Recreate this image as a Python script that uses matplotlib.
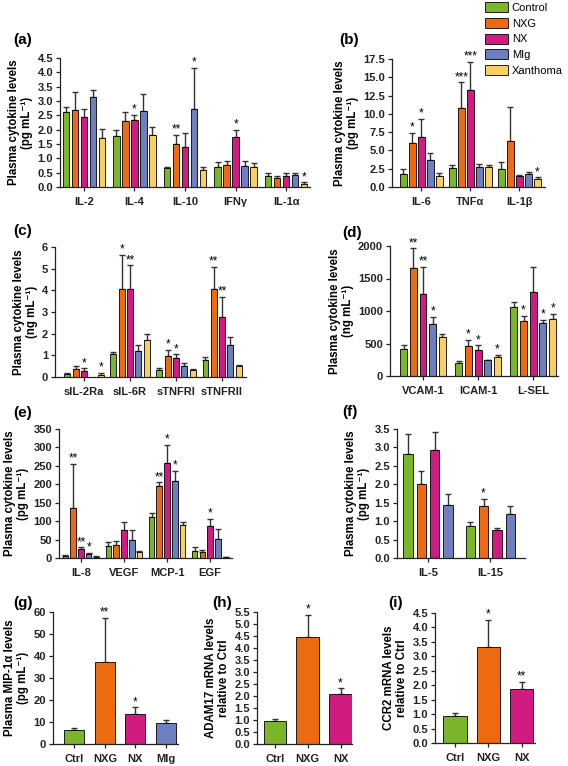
import numpy as np
import matplotlib
matplotlib.use('Agg')
import matplotlib.pyplot as plt
from matplotlib.patches import Patch

plt.rcParams['font.family'] = ['Liberation Sans', 'DejaVu Sans']
plt.rcParams['font.weight'] = 'bold'
plt.rcParams['axes.labelweight'] = 'bold'

# colours of the five groups
series = ['Control', 'NXG', 'NX', 'MIg', 'Xanthoma']
colors = ['#7AB52A', '#EE6A10', '#D11B80', '#6F7EC0', '#F8CF60']

# (a) pg/mL
a_groups = ['IL-2', 'IL-4', 'IL-10', 'IFNγ', 'IL-1α']
a_means = [[2.60, 1.79, 0.65, 0.70, 0.37],
           [2.69, 2.30, 1.51, 0.77, 0.33],
           [2.43, 2.34, 1.40, 1.73, 0.38],
           [3.15, 2.64, 2.73, 0.74, 0.42],
           [1.72, 1.83, 0.61, 0.70, 0.12]]
a_errs = [[0.20, 0.20, 0.05, 0.16, 0.13],
          [0.61, 0.33, 0.30, 0.13, 0.05],
          [0.30, 0.17, 0.49, 0.26, 0.10],
          [0.24, 0.60, 1.42, 0.18, 0.06],
          [0.32, 0.27, 0.09, 0.14, 0.04]]
a_stars = [['', '', '', '', ''],
           ['', '', '**', '', ''],
           ['', '*', '', '*', ''],
           ['', '', '*', '', ''],
           ['', '', '', '', '*']]

# (b) pg/mL
b_groups = ['IL-6', 'TNFα', 'IL-1β']
b_means = [[1.8, 2.6, 2.46],
           [6.0, 10.8, 6.25],
           [6.9, 13.2, 1.55],
           [3.7, 2.8, 1.78],
           [1.55, 2.7, 1.15]]
b_errs = [[0.6, 0.4, 0.9],
          [1.4, 3.5, 4.65],
          [2.4, 3.9, 0.15],
          [1.0, 0.4, 0.22],
          [0.35, 0.3, 0.15]]
b_stars = [['', '', ''],
           ['*', '***', ''],
           ['*', '***', ''],
           ['', '', ''],
           ['', '', '*']]

# (c) ng/mL
c_groups = ['sIL-2Ra', 'sIL-6R', 'sTNFRI', 'sTNFRII']
c_means = [[0.15, 1.05, 0.33, 0.77],
           [0.35, 4.05, 0.98, 4.05],
           [0.30, 4.05, 0.88, 2.77],
           [np.nan, 1.22, 0.53, 1.48],
           [0.10, 1.72, 0.33, 0.53]]
c_errs = [[0.02, 0.12, 0.07, 0.15],
          [0.17, 1.57, 0.27, 1.05],
          [0.10, 1.10, 0.17, 0.93],
          [np.nan, 0.26, 0.12, 0.37],
          [0.10, 0.28, 0.04, 0.04]]
c_stars = [['', '', '', ''],
           ['', '*', '*', '**'],
           ['*', '**', '*', '**'],
           ['', '', '', ''],
           ['*', '', '', '']]

# (d) ng/mL
d_groups = ['VCAM-1', 'ICAM-1', 'L-SEL']
d_means = [[422, 206, 1069],
           [1655, 458, 843],
           [1260, 406, 1296],
           [807, 242, 812],
           [601, 298, 879]]
d_errs = [[61, 25, 62],
          [309, 102, 77],
          [421, 67, 385],
          [103, 10, 57],
          [52, 26, 82]]
d_stars = [['', '', ''],
           ['**', '*', '*'],
           ['**', '*', ''],
           ['*', '', '*'],
           ['', '*', '*']]

# (e) pg/mL
e_groups = ['IL-8', 'VEGF', 'MCP-1', 'EGF']
e_means = [[4.5, 33, 111, 18],
           [136, 36, 196, 16],
           [23.5, 77, 257, 86],
           [11, 50, 210, 52],
           [3.6, 15, 90, 3]]
e_errs = [[2.5, 10, 11, 12],
          [119, 11, 9, 7],
          [5.5, 22, 50, 20],
          [2.5, 27, 27, 27],
          [1, 3, 9, 1]]
e_stars = [['', '', '', ''],
           ['**', '', '**', ''],
           ['**', '', '*', '*'],
           ['*', '', '*', ''],
           ['', '', '', '']]

# (f) pg/mL, four groups only
f_groups = ['IL-5', 'IL-15']
f_means = [[2.81, 0.88],
           [2.00, 1.42],
           [2.92, 0.77],
           [1.45, 1.19]]
f_errs = [[0.56, 0.10],
          [0.35, 0.19],
          [0.49, 0.04],
          [0.29, 0.23]]
f_stars = [['', ''], ['', '*'], ['', ''], ['', '']]

# (g) MIP-1a, (h) ADAM17, (i) CCR2
g_labels = ['Ctrl', 'NXG', 'NX', 'MIg']
g_means = [6.2, 37.4, 13.7, 9.5]
g_errs = [1.3, 19.9, 2.9, 1.4]
g_stars = ['', '**', '*', '']

h_labels = ['Ctrl', 'NXG', 'NX']
h_means = [0.97, 4.46, 2.09]
h_errs = [0.09, 0.93, 0.23]
h_stars = ['', '*', '*']

i_labels = ['Ctrl', 'NXG', 'NX']
i_means = [0.95, 3.31, 1.87]
i_errs = [0.08, 0.94, 0.25]
i_stars = ['', '*', '**']

W, H = 568, 766
fig = plt.figure(figsize=(W / 100, H / 100), dpi=100)


def add_ax(l, t, r, b):
    return fig.add_axes([l / W, 1 - b / H, (r - l) / W, (b - t) / H])


def style_ax(ax, ymax, step, fmt, ylabel):
    for s in ['top', 'right']:
        ax.spines[s].set_visible(False)
    for s in ['left', 'bottom']:
        ax.spines[s].set_linewidth(0.9)
        ax.spines[s].set_color('#222222')
    ax.set_ylim(0, ymax)
    ax.set_yticks(np.arange(0, ymax + step / 2, step))
    ax.set_yticklabels([fmt.format(v) for v in np.arange(0, ymax + step / 2, step)])
    ax.tick_params(axis='both', labelsize=8, length=3, width=0.9, pad=2, colors='#222222')
    ax.tick_params(axis='x', pad=4)
    ax.set_ylabel(ylabel, fontsize=8.3, labelpad=3, linespacing=1.1)


def draw_bars(ax, xs, m, e, s, col, width):
    e = np.array(e, float)
    ax.bar(xs, m, width, color=col, edgecolor='black', linewidth=0.6, zorder=2)
    ax.errorbar(xs, m, yerr=[np.zeros_like(e), e], fmt='none', ecolor='#333333',
                elinewidth=1.0, capsize=2.3, capthick=1.0, zorder=1)
    for xi, mi, ei, si in zip(xs, m, e, s):
        if si:
            ax.annotate(si, (xi, mi + ei), xytext=(0, -0.5), textcoords='offset points',
                        ha='center', va='bottom', fontsize=8.5, fontweight='normal')


def grouped(ax, groups, means, errs, stars, slot, width, xlim):
    n = len(means)
    x = np.arange(len(groups))
    for i in range(n):
        xs = x + (i - (n - 1) / 2) * slot
        draw_bars(ax, xs, means[i], errs[i], stars[i], colors[i], width)
    ax.set_xticks(x)
    ax.set_xticklabels(groups)
    ax.set_xlim(*xlim)


ylab_pg = 'Plasma cytokine levels\n(pg mL⁻¹)'
ylab_ng = 'Plasma cytokine levels\n(ng mL⁻¹)'

ax = add_ax(60, 58, 310, 187)
grouped(ax, a_groups, a_means, a_errs, a_stars, 0.178, 0.128, (-0.47, 4.47))
style_ax(ax, 4.5, 0.5, '{:.1f}', ylab_pg)

ax = add_ax(392, 59, 545, 187)
grouped(ax, b_groups, b_means, b_errs, b_stars, 0.184, 0.13, (-0.6, 2.52))
style_ax(ax, 17.5, 2.5, '{:.1f}', ylab_pg)

ax = add_ax(55, 247, 246, 377)
grouped(ax, c_groups, c_means, c_errs, c_stars, 0.18, 0.13, (-0.63, 3.52))
style_ax(ax, 6, 1, '{:.0f}', ylab_ng)

ax = add_ax(390, 246, 558, 376)
grouped(ax, d_groups, d_means, d_errs, d_stars, 0.176, 0.125, (-0.6, 2.45))
style_ax(ax, 2000, 500, '{:.0f}', ylab_ng)

ax = add_ax(59, 429, 232, 558)
grouped(ax, e_groups, e_means, e_errs, e_stars, 0.18, 0.13, (-0.51, 3.51))
style_ax(ax, 350, 50, '{:.0f}', ylab_pg)

ax = add_ax(397, 429, 525, 558)
grouped(ax, f_groups, f_means, f_errs, f_stars, 0.215, 0.15, (-0.5, 1.56))
style_ax(ax, 3.5, 0.5, '{:.1f}', ylab_pg)

ax = add_ax(53, 612, 178, 744)
x = np.arange(len(g_labels))
draw_bars(ax, x, g_means, g_errs, g_stars, colors[:4], 0.65)
ax.set_xticks(x)
ax.set_xticklabels(g_labels)
ax.set_xlim(-0.7, 3.4)
style_ax(ax, 60, 10, '{:.0f}', 'Plasma MIP-1α levels\n(pg mL⁻¹)')

ax = add_ax(257, 612, 352, 744)
x = np.arange(len(h_labels))
draw_bars(ax, x, h_means, h_errs, h_stars, colors[:3], 0.7)
ax.set_xticks(x)
ax.set_xticklabels(h_labels)
ax.set_xlim(-0.55, 2.35)
style_ax(ax, 5.5, 0.5, '{:.1f}', 'ADAM17 mRNA levels\nrelative to Ctrl')

ax = add_ax(435, 613, 535, 743)
x = np.arange(len(i_labels))
draw_bars(ax, x, i_means, i_errs, i_stars, colors[:3], 0.7)
ax.set_xticks(x)
ax.set_xticklabels(i_labels)
ax.set_xlim(-0.6, 2.4)
style_ax(ax, 4.5, 0.5, '{:.1f}', 'CCR2 mRNA levels\nrelative to Ctrl')

# panel letters
for lab, px, py in [('(a)', 13, 40), ('(b)', 339, 40), ('(c)', 13, 231),
                    ('(d)', 342, 233), ('(e)', 13, 413), ('(f)', 342, 412),
                    ('(g)', 13, 603), ('(h)', 212, 603), ('(i)', 388, 603)]:
    fig.text(px / W, 1 - py / H, lab, fontsize=11, fontweight='bold', va='center', ha='left')

handles = [Patch(facecolor=c, edgecolor='black', linewidth=0.6) for c in colors]
fig.legend(handles, series, loc='upper left', bbox_to_anchor=(484 / W, 1 - 1 / H),
           frameon=False, prop={'size': 8.0, 'weight': 'normal'}, handlelength=2.1,
           handleheight=1.0, labelspacing=0.45, handletextpad=0.3,
           borderaxespad=0, borderpad=0.1)

fig.savefig('out.png', dpi=100)
